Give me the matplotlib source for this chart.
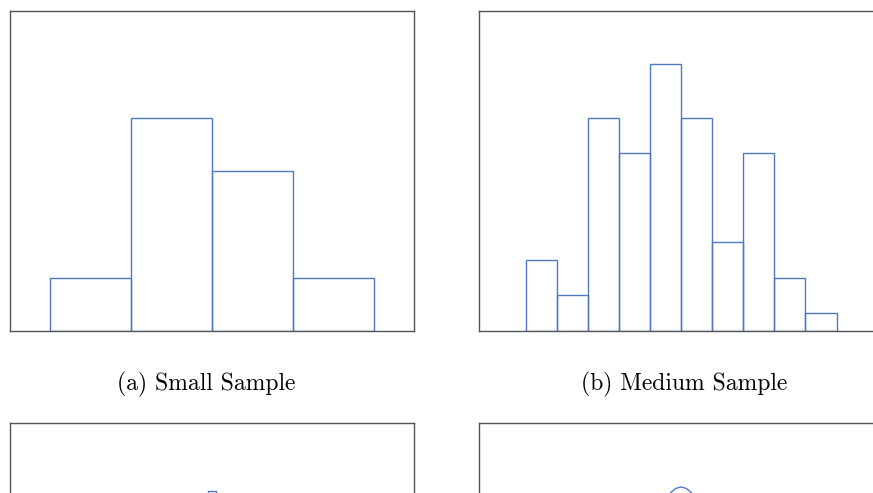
import numpy as np
import matplotlib.pyplot as plt

BLUE = '#5079C2'
SPINE = '#555555'

# (a) small sample: 4 bins
small_counts = [1, 4, 3, 1]
# (b) medium sample: 10 bins
medium_counts = [4, 2, 12, 10, 15, 12, 5, 10, 3, 1]
# (c) large sample: many narrow bins (only the peak is visible)
large_counts = [1, 1, 2, 4, 6, 9, 13, 18, 24, 31, 38, 45, 52, 58, 63,
                62, 57, 51, 44, 37, 30, 23, 17, 12, 8, 5, 3, 2, 1]
# (d) density curve (only its top is visible)
density_x = [1.0, 1.5, 2.0, 2.5, 3.0, 3.5, 4.0, 4.25, 4.5, 4.625, 4.75, 4.875,
             5.0, 5.125, 5.25, 5.375, 5.5, 5.75, 6.0, 6.5, 7.0, 7.5, 8.0, 8.5, 9.0]
density_y = [0.003, 0.011, 0.035, 0.091, 0.199, 0.366, 0.565, 0.658, 0.734,
             0.762, 0.783, 0.796, 0.800, 0.796, 0.783, 0.762, 0.734, 0.658,
             0.565, 0.366, 0.199, 0.091, 0.035, 0.011, 0.003]

captions = ['(a) Small Sample', '(b) Medium Sample']

W, H = 873, 493
fig = plt.figure(figsize=(W / 100, H / 100), dpi=100)


def add_axes(left, top, width=404, height=320):
    ax = fig.add_axes([left / W, (H - top - height) / H, width / W, height / H])
    ax.set_xticks([])
    ax.set_yticks([])
    for s in ax.spines.values():
        s.set_color(SPINE)
        s.set_linewidth(1.0)
    return ax


def outline_hist(ax, counts, first_edge=0):
    edges = np.arange(len(counts)) + first_edge
    ax.bar(edges, counts, width=1, align='edge', fill=False,
           edgecolor=BLUE, linewidth=1.0)


# top left
ax = add_axes(10, 11)
outline_hist(ax, small_counts)
m = 40 / 81
ax.set_xlim(-m, len(small_counts) + m)
ax.set_ylim(0, 6)

# top right
ax = add_axes(479, 11)
outline_hist(ax, medium_counts)
m = 46.5 / 31.1
ax.set_xlim(-m, len(medium_counts) + m)
ax.set_ylim(0, 18)

# bottom left
ax = add_axes(10, 423)
outline_hist(ax, large_counts, first_edge=-14)
ax.set_xlim(-24.75, 25.75)
ax.set_ylim(0, 80)

# bottom right
ax = add_axes(479, 423)
ax.plot(density_x, density_y, color=BLUE, linewidth=1.0)
ax.set_xlim(0, 10)
ax.set_ylim(0, 1)

fig.text(206 / W, 1 - 384 / H, captions[0], ha='center', va='center',
         fontsize=17, family='cmr10')
fig.text(684 / W, 1 - 384 / H, captions[1], ha='center', va='center',
         fontsize=17, family='cmr10')

fig.savefig('out.png', dpi=100)
